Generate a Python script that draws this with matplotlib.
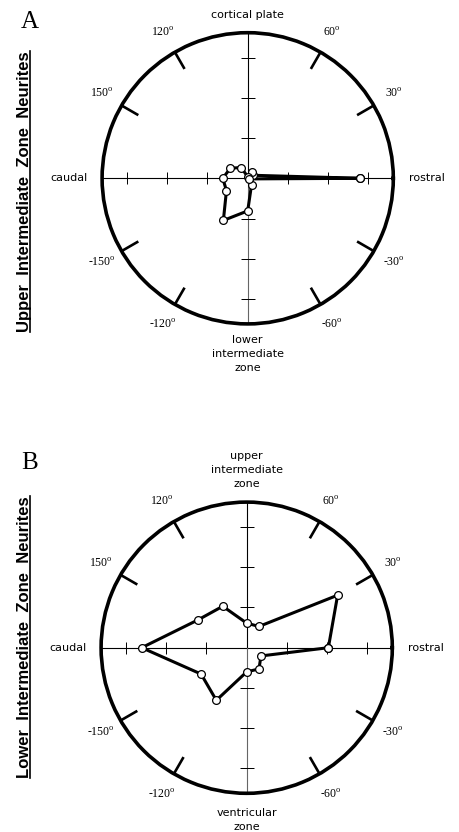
import numpy as np
import matplotlib
matplotlib.use("Agg")
import matplotlib.pyplot as plt
from matplotlib.lines import Line2D

plt.rcParams['mathtext.fontset'] = 'custom'
plt.rcParams['mathtext.rm'] = 'Liberation Serif'

# angles of the neurite direction bins (degrees), 0 = rostral
angles = [0, 30, 60, 90, 120, 150, 180, 210, 240, 270, 300, 330]

# A: upper intermediate zone neurites
upper_r = [2.80, 0.15, 0.19, 0.03, 0.31, 0.50, 0.62, 0.61, 1.21, 0.81, 0.19, 0.03]
# B: lower intermediate zone neurites
lower_r = [2.03, 2.61, 0.61, 0.61, 1.19, 1.39, 2.61, 1.31, 1.51, 0.60, 0.61, 0.41]

deg_ticks = [30, 60, 120, 150, -30, -60, -120, -150]
axis_ticks = [1, 2, 3]
rmax = 3.62

W, H = 460, 832
fig = plt.figure(figsize=(W / 100, H / 100), dpi=100)


def polar_panel(cx, cy, r, top_txt, bottom_txt, letter, side_txt):
    rad = 145.6
    ax = fig.add_axes([(cx - rad) / W, (H - cy - rad) / H, 2 * rad / W, 2 * rad / H],
                      projection='polar')
    ax.set_rlim(0, rmax)
    ax.set_xticks([])
    ax.set_yticks([])
    ax.grid(False)
    ax.spines['polar'].set_linewidth(2.6)

    # axes through the centre
    ax.plot([0, 0], [0, rmax], color='k', lw=0.8)
    ax.plot([np.pi, np.pi], [0, rmax], color='k', lw=0.8)
    ax.plot([np.pi / 2, np.pi / 2], [0, rmax], color='k', lw=0.8)
    ax.plot([-np.pi / 2, -np.pi / 2], [0, rmax], color='0.4', lw=0.8)
    for t in axis_ticks:
        ax.plot([0, np.pi], [t, t], ls='none', marker='|', ms=9, mew=0.7, color='k')
        ax.plot([np.pi / 2, -np.pi / 2], [t, t], ls='none', marker='_', ms=10, mew=0.7, color='k')

    # radial ticks on the circle and their degree labels
    for d in deg_ticks:
        th = np.deg2rad(d)
        ax.plot([th, th], [3.14, rmax], color='k', lw=1.9, solid_capstyle='butt')
        ax.text(th, 4.2, r'%d$^{\mathrm{o}}$' % d, family='Liberation Serif', fontsize=8.5,
                ha='center', va='center')

    th = np.deg2rad(angles + [angles[0]])
    rr = r + [r[0]]
    ax.plot(th, rr, color='k', lw=2.2, marker='o', ms=5.6, mfc='white', mec='k', mew=0.9,
            solid_joinstyle='miter', zorder=5)

    ax.text(0, 4.0, 'rostral', fontsize=8, ha='left', va='center')
    ax.text(np.pi, 3.97, 'caudal', fontsize=8, ha='right', va='center')
    ax.text(np.pi / 2, top_txt[1], top_txt[0], fontsize=8, ha='center', va='center',
            linespacing=1.45)
    ax.text(-np.pi / 2, bottom_txt[1], bottom_txt[0], fontsize=8, ha='center', va='center',
            linespacing=1.45)

    fig.text(30 / W, 1 - letter[1] / H, letter[0], family='Liberation Serif', fontsize=18,
             ha='center', va='center')
    st = fig.text(25 / W, 1 - side_txt[1] / H, side_txt[0], family='Liberation Sans',
                  weight='bold', fontsize=12, rotation=90, ha='center', va='center')
    return st


sA = polar_panel(247.7, 178.3, upper_r, ('cortical plate', 4.06),
                 ('lower\nintermediate\nzone', 4.37), ('A', 21.7),
                 ('Upper  Intermediate  Zone  Neurites', 191.7))
sB = polar_panel(246.7, 647.7, lower_r, ('upper\nintermediate\nzone', 4.42),
                 ('ventricular\nzone', 4.29), ('B', 463.3),
                 ('Lower  Intermediate  Zone  Neurites', 636.7))

# underline the rotated side titles
fig.canvas.draw()
inv = fig.transFigure.inverted()
for st in (sA, sB):
    bb = st.get_window_extent()
    (x0, y0), (x1, y1) = inv.transform([(bb.x0, bb.y0), (bb.x1 - 2.5, bb.y1)])
    fig.add_artist(Line2D([x1, x1], [y0, y1], color='k', lw=1.2))

fig.savefig('out.png', dpi=100)
